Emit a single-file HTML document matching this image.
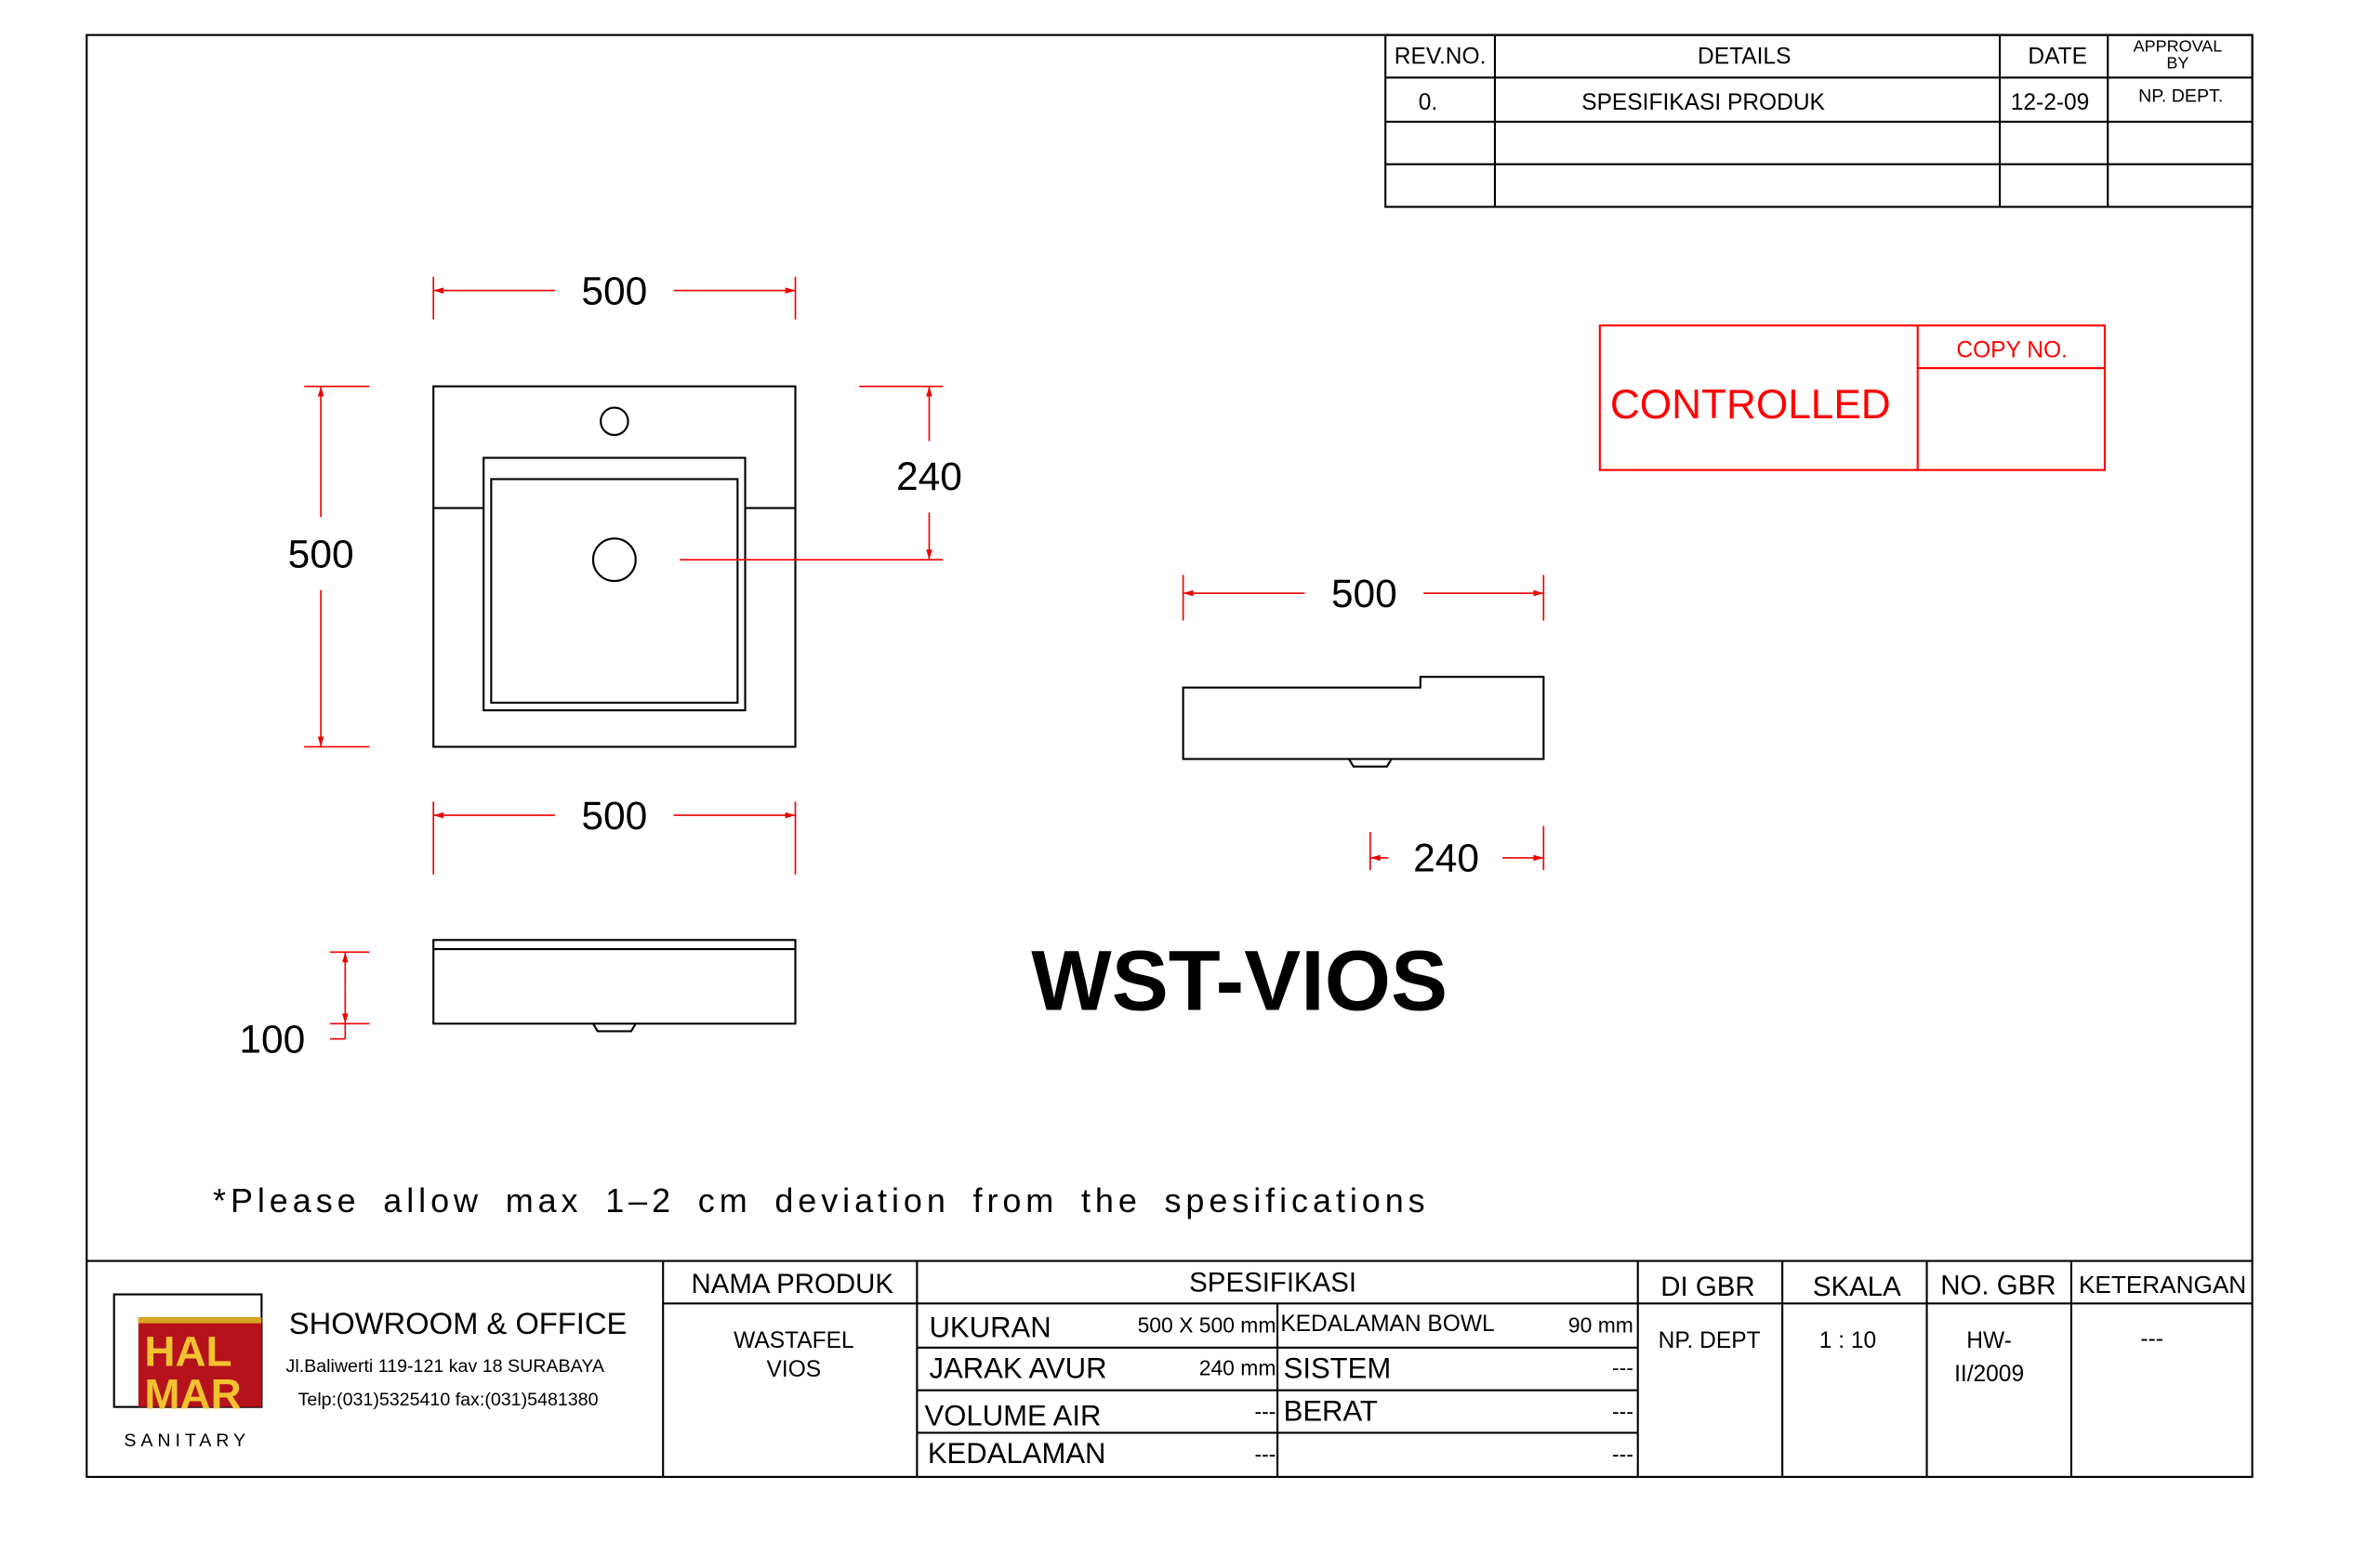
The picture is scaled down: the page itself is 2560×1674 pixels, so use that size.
<!DOCTYPE html>
<html><head><meta charset="utf-8"><style>
html,body{margin:0;padding:0;background:#fff;}
svg{display:block;}
text{font-family:"Liberation Sans",sans-serif;}
</style></head><body>
<svg width="2560" height="1674" viewBox="0 0 1565 1023" preserveAspectRatio="none" xmlns="http://www.w3.org/2000/svg">
<defs>
<marker id="a" viewBox="0 0 10 6" refX="10" refY="3" markerWidth="8" markerHeight="4" orient="auto-start-reverse" markerUnits="userSpaceOnUse"><path d="M0,0L10,3L0,6z" fill="#e00"/></marker>
</defs>
<g fill="none" stroke="#000" stroke-width="1.3">
<rect x="57" y="23" width="1424" height="948"/>
<line x1="57" y1="829" x2="1481" y2="829"/>
<rect x="911" y="23" width="570" height="113"/>
<line x1="911" y1="51" x2="1481" y2="51"/><line x1="911" y1="80" x2="1481" y2="80"/><line x1="911" y1="108" x2="1481" y2="108"/>
<line x1="983" y1="23" x2="983" y2="136"/><line x1="1315" y1="23" x2="1315" y2="136"/><line x1="1386" y1="23" x2="1386" y2="136"/>
<line x1="436" y1="829" x2="436" y2="971"/><line x1="603" y1="829" x2="603" y2="971"/>
<line x1="1077" y1="829" x2="1077" y2="971"/><line x1="1172" y1="829" x2="1172" y2="971"/>
<line x1="1267" y1="829" x2="1267" y2="971"/><line x1="1362" y1="829" x2="1362" y2="971"/>
<line x1="436" y1="857" x2="1481" y2="857"/>
<line x1="603" y1="886" x2="1077" y2="886"/><line x1="603" y1="914" x2="1077" y2="914"/><line x1="603" y1="942" x2="1077" y2="942"/>
<line x1="840" y1="857" x2="840" y2="971"/>
<rect x="285" y="254" width="238" height="237"/>
<circle cx="404" cy="277" r="9"/>
<rect x="318" y="301" width="172" height="166"/>
<rect x="323" y="315" width="162" height="147"/>
<line x1="285" y1="334" x2="318" y2="334"/><line x1="490" y1="334" x2="523" y2="334"/>
<circle cx="404" cy="368" r="14"/>
<rect x="285" y="618" width="238" height="55"/>
<line x1="285" y1="624" x2="523" y2="624"/>
<path d="M390,673 L393,678 L415,678 L418,673"/>
<path d="M778,452 L934,452 L934,445 L1015,445 L1015,499 L778,499 Z"/>
<path d="M887,499 L890,504 L912,504 L915,499"/>
<rect x="75" y="851" width="97" height="74"/>
</g>
<rect x="91" y="866" width="81" height="59" fill="#b5121b"/>
<rect x="91" y="866" width="81" height="4" fill="#d8a520"/>
<text x="95" y="898" font-size="28" font-weight="bold" fill="#f2c230">HAL</text>
<text x="95" y="926" font-size="28" font-weight="bold" fill="#f2c230">MAR</text>
<g fill="none" stroke="#f00" stroke-width="1.3">
<rect x="1052" y="214" width="332" height="95"/>
<line x1="1261" y1="214" x2="1261" y2="309"/>
<line x1="1261" y1="242" x2="1384" y2="242"/>
</g>
<text x="1151" y="275" font-size="27" fill="#f00" text-anchor="middle">CONTROLLED</text>
<text x="1323" y="235" font-size="15" fill="#f00" text-anchor="middle">COPY NO.</text>
<g stroke="#e00" stroke-width="1" fill="none">
<line x1="285" y1="182" x2="285" y2="210"/><line x1="523" y1="182" x2="523" y2="210"/>
<line x1="365" y1="191" x2="285" y2="191" marker-end="url(#a)"/><line x1="443" y1="191" x2="523" y2="191" marker-end="url(#a)"/>
<line x1="200" y1="254" x2="243" y2="254"/><line x1="200" y1="491" x2="243" y2="491"/>
<line x1="211" y1="340" x2="211" y2="254" marker-end="url(#a)"/><line x1="211" y1="388" x2="211" y2="491" marker-end="url(#a)"/>
<line x1="565" y1="254" x2="620" y2="254"/><line x1="447" y1="368" x2="620" y2="368"/>
<line x1="611" y1="290" x2="611" y2="254" marker-end="url(#a)"/><line x1="611" y1="337" x2="611" y2="368" marker-end="url(#a)"/>
<line x1="285" y1="527" x2="285" y2="575"/><line x1="523" y1="527" x2="523" y2="575"/>
<line x1="365" y1="536" x2="285" y2="536" marker-end="url(#a)"/><line x1="443" y1="536" x2="523" y2="536" marker-end="url(#a)"/>
<line x1="217" y1="626" x2="243" y2="626"/><line x1="217" y1="673" x2="243" y2="673"/>
<line x1="227" y1="650" x2="227" y2="626" marker-end="url(#a)"/><line x1="227" y1="650" x2="227" y2="673" marker-end="url(#a)"/>
<line x1="227" y1="673" x2="227" y2="683"/><line x1="217" y1="683" x2="227" y2="683"/>
<line x1="778" y1="378" x2="778" y2="408"/><line x1="1015" y1="378" x2="1015" y2="408"/>
<line x1="858" y1="390" x2="778" y2="390" marker-end="url(#a)"/><line x1="936" y1="390" x2="1015" y2="390" marker-end="url(#a)"/>
<line x1="901" y1="547" x2="901" y2="572"/><line x1="1015" y1="543" x2="1015" y2="572"/>
<line x1="913" y1="564" x2="901" y2="564" marker-end="url(#a)"/><line x1="988" y1="564" x2="1015" y2="564" marker-end="url(#a)"/>
</g>
<g font-size="26" fill="#000" text-anchor="middle">
<text x="404" y="200">500</text>
<text x="211" y="373">500</text>
<text x="611" y="322">240</text>
<text x="404" y="545">500</text>
<text x="179" y="692">100</text>
<text x="897" y="399">500</text>
<text x="951" y="573">240</text>
</g>
<text x="815" y="664" font-size="56" font-weight="bold" text-anchor="middle">WST-VIOS</text>
<text x="140" y="797" font-size="22" letter-spacing="3.05" word-spacing="6" textLength="800">*Please allow max 1–2 cm deviation from the spesifications</text>
<g font-size="15" text-anchor="middle">
<text x="947" y="42">REV.NO.</text>
<text x="1147" y="42">DETAILS</text>
<text x="1353" y="42">DATE</text>
<text x="1432" y="34" font-size="11">APPROVAL</text>
<text x="1432" y="45" font-size="11">BY</text>
<text x="939" y="72">0.</text>
<text x="1120" y="72">SPESIFIKASI PRODUK</text>
<text x="1348" y="72">12-2-09</text>
<text x="1434" y="67" font-size="12">NP. DEPT.</text>
</g>
<text x="123" y="951" font-size="12" letter-spacing="3" text-anchor="middle">SANITARY</text>
<text x="190" y="877" font-size="20">SHOWROOM &amp; OFFICE</text>
<text x="188" y="902" font-size="12">Jl.Baliwerti 119-121 kav 18 SURABAYA</text>
<text x="196" y="924" font-size="12">Telp:(031)5325410 fax:(031)5481380</text>
<g font-size="18" text-anchor="middle">
<text x="521" y="850">NAMA PRODUK</text>
<text x="837" y="849">SPESIFIKASI</text>
<text x="1123" y="852">DI GBR</text>
<text x="1221" y="852">SKALA</text>
<text x="1314" y="851">NO. GBR</text>
<text x="1422" y="850" font-size="16">KETERANGAN</text>
</g>
<g font-size="15" text-anchor="middle">
<text x="522" y="886">WASTAFEL</text>
<text x="522" y="905">VIOS</text>
<text x="1124" y="886">NP. DEPT</text>
<text x="1215" y="886">1 : 10</text>
<text x="1308" y="886">HW-</text>
<text x="1308" y="908">II/2009</text>
<text x="1415" y="885">---</text>
</g>
<g font-size="19">
<text x="611" y="879">UKURAN</text>
<text x="611" y="906">JARAK AVUR</text>
<text x="608" y="937">VOLUME AIR</text>
<text x="610" y="962">KEDALAMAN</text>
<text x="844" y="906">SISTEM</text>
<text x="844" y="934">BERAT</text>
<text x="842" y="875" font-size="15">KEDALAMAN BOWL</text>
</g>
<g font-size="14" text-anchor="end">
<text x="839" y="876">500 X 500 mm</text>
<text x="839" y="904">240 mm</text>
<text x="839" y="933">---</text>
<text x="839" y="961">---</text>
<text x="1074" y="876">90 mm</text>
<text x="1074" y="904">---</text>
<text x="1074" y="933">---</text>
<text x="1074" y="961">---</text>
</g>
</svg>
</body></html>
